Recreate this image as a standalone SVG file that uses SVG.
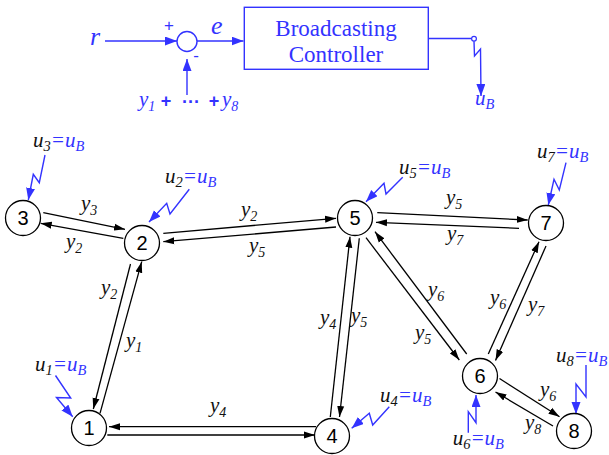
<svg xmlns="http://www.w3.org/2000/svg" width="609" height="455" viewBox="0 0 609 455">
<style>
.lbl{font-family:"Liberation Serif","Times New Roman",serif;font-style:italic;font-size:21px;fill:#111}
.ul{font-family:"Liberation Serif","Times New Roman",serif;font-style:italic;font-size:21px;fill:#111}
.bl{fill:#3333ff}
.num{font-family:"Liberation Sans",Arial,sans-serif;font-size:20px;text-anchor:middle;fill:#000}
.node circle{fill:#fff;stroke:#000;stroke-width:1.3}
.edge{stroke:#000;stroke-width:1.3;fill:none;marker-end:url(#ah)}
.bz{stroke:#3333ff;stroke-width:1.4;fill:none;marker-end:url(#bh)}
.bline{stroke:#3333ff;stroke-width:1.4;fill:none}
.btxt{font-family:"Liberation Serif","Times New Roman",serif;font-size:23px;fill:#3333ff;text-anchor:middle}
.op{font-family:"Liberation Sans",Arial,sans-serif;font-size:18px;font-weight:bold;fill:#3333ff;text-anchor:middle}
</style>
<defs>
<marker id="ah" markerUnits="userSpaceOnUse" markerWidth="12" markerHeight="8" refX="11" refY="4" orient="auto"><path d="M0,0.5 L11,4 L0,7.5 z" fill="#000"/></marker>
<marker id="bh" markerUnits="userSpaceOnUse" markerWidth="14" markerHeight="10" refX="12" refY="4.5" orient="auto"><path d="M0,0 L12,4.5 L0,9 z" fill="#3333ff"/></marker>
</defs>

<!-- block diagram -->
<g id="block">
<text x="90" y="45" class="lbl bl" style="font-size:26px">r</text>
<line x1="105" y1="41" x2="177" y2="41" class="bz"/>
<circle cx="187" cy="41.5" r="10" fill="#fff" stroke="#3333ff" stroke-width="1.4"/>
<text x="169" y="31" style="font-family:'Liberation Sans',Arial,sans-serif;font-size:17px;fill:#3333ff;text-anchor:middle">+</text>
<text x="196" y="61" style="font-family:'Liberation Sans',Arial,sans-serif;font-size:17px;fill:#3333ff;text-anchor:middle">-</text>
<text x="211" y="33.5" class="lbl bl" style="font-size:26px">e</text>
<line x1="197" y1="41" x2="243.5" y2="41" class="bz"/>
<line x1="187" y1="95" x2="187" y2="59" class="bz"/>
<text y="106" class="lbl bl"><tspan x="139">y</tspan><tspan font-size="14" dy="5">1</tspan></text>
<text x="166" y="107" class="op">+</text>
<text x="191" y="108" class="op">···</text>
<text x="214" y="107" class="op">+</text>
<text y="106" class="lbl bl"><tspan x="222">y</tspan><tspan font-size="14" dy="5">8</tspan></text>
<rect x="244.3" y="7.3" width="184" height="62" fill="#fff" stroke="#3333ff" stroke-width="1.4"/>
<text x="336" y="36" class="btxt">Broadcasting</text>
<text x="336" y="62" class="btxt">Controller</text>
<line x1="428.3" y1="38.5" x2="471.5" y2="38.5" class="bline"/>
<circle cx="474" cy="38.7" r="2.4" fill="#fff" stroke="#3333ff" stroke-width="1.2"/>
<polyline points="474,41.2 474.5,56 480.5,49 481,96" class="bz"/>
<text y="105" class="ul bl"><tspan x="475">u</tspan><tspan font-size="14.5" dy="4">B</tspan></text>
</g>

<!-- connectors -->
<g id="connectors">
<line x1="43.3" y1="212.7" x2="125" y2="229.3" class="edge"/>
<line x1="123.3" y1="238.3" x2="40.7" y2="223.3" class="edge"/>
<line x1="163.3" y1="233.3" x2="336" y2="218.3" class="edge"/>
<line x1="336" y1="227" x2="163.3" y2="241.7" class="edge"/>
<line x1="377.3" y1="212.7" x2="527.7" y2="220" class="edge"/>
<line x1="519" y1="228.3" x2="376" y2="222.3" class="edge"/>
<line x1="130.5" y1="264" x2="93.3" y2="409" class="edge"/>
<line x1="100" y1="413.3" x2="141.7" y2="261.7" class="edge"/>
<line x1="316" y1="426.7" x2="109" y2="426.7" class="edge"/>
<line x1="107.3" y1="435" x2="315" y2="435" class="edge"/>
<line x1="330.3" y1="417" x2="350" y2="236.7" class="edge"/>
<line x1="359.3" y1="238.3" x2="339.5" y2="417" class="edge"/>
<line x1="366" y1="237.7" x2="459.3" y2="360" class="edge"/>
<line x1="466.7" y1="354" x2="375" y2="231.7" class="edge"/>
<line x1="488.3" y1="354" x2="539" y2="241.7" class="edge"/>
<line x1="546" y1="246" x2="495.5" y2="360.5" class="edge"/>
<line x1="499.5" y1="378.5" x2="559.5" y2="416.7" class="edge"/>
<line x1="553" y1="426" x2="495.5" y2="392" class="edge"/>
</g>

<!-- edge labels -->
<g id="edge-labels" class="lbl">
<text y="209.5"><tspan x="81">y</tspan><tspan font-size="14" dy="5">3</tspan></text>
<text y="248"><tspan x="66">y</tspan><tspan font-size="14" dy="5">2</tspan></text>
<text y="215.5"><tspan x="241">y</tspan><tspan font-size="14" dy="5">2</tspan></text>
<text y="252"><tspan x="249">y</tspan><tspan font-size="14" dy="5">5</tspan></text>
<text y="203.7"><tspan x="446">y</tspan><tspan font-size="14" dy="5">5</tspan></text>
<text y="240"><tspan x="447">y</tspan><tspan font-size="14" dy="5">7</tspan></text>
<text y="294"><tspan x="101">y</tspan><tspan font-size="14" dy="5">2</tspan></text>
<text y="347"><tspan x="126">y</tspan><tspan font-size="14" dy="5">1</tspan></text>
<text y="412"><tspan x="210">y</tspan><tspan font-size="14" dy="5">4</tspan></text>
<text y="324"><tspan x="320">y</tspan><tspan font-size="14" dy="5">4</tspan></text>
<text y="322"><tspan x="351">y</tspan><tspan font-size="14" dy="5">5</tspan></text>
<text y="295.5"><tspan x="428">y</tspan><tspan font-size="14" dy="5">6</tspan></text>
<text y="338.5"><tspan x="415">y</tspan><tspan font-size="14" dy="5">5</tspan></text>
<text y="303.7"><tspan x="490">y</tspan><tspan font-size="14" dy="5">6</tspan></text>
<text y="310.5"><tspan x="528">y</tspan><tspan font-size="14" dy="5">7</tspan></text>
<text y="395.5"><tspan x="540">y</tspan><tspan font-size="14" dy="5">6</tspan></text>
<text y="428.7"><tspan x="525">y</tspan><tspan font-size="14" dy="5">8</tspan></text>
</g>

<!-- broadcast inputs -->
<g id="broadcast">
<polyline points="45,155 39.3,182.7 33.3,174.3 28.3,200" class="bz"/>
<text y="146.7" class="ul"><tspan x="33">u</tspan><tspan font-size="14.5" dy="4">3</tspan><tspan class="bl" dy="-4">=u</tspan><tspan class="bl" font-size="14.5" dy="4">B</tspan></text>
<polyline points="189.3,189.3 170,214 166.7,203.3 149,222" class="bz"/>
<text y="183" class="ul"><tspan x="165">u</tspan><tspan font-size="14.5" dy="4">2</tspan><tspan class="bl" dy="-4">=u</tspan><tspan class="bl" font-size="14.5" dy="4">B</tspan></text>
<polyline points="402.7,177.3 386,194 384,183.3 366,201.7" class="bz"/>
<text y="173.5" class="ul"><tspan x="399">u</tspan><tspan font-size="14.5" dy="4">5</tspan><tspan class="bl" dy="-4">=u</tspan><tspan class="bl" font-size="14.5" dy="4">B</tspan></text>
<polyline points="566,162.7 559.3,190 554,179.3 548.3,205" class="bz"/>
<text y="158" class="ul"><tspan x="537">u</tspan><tspan font-size="14.5" dy="4">7</tspan><tspan class="bl" dy="-4">=u</tspan><tspan class="bl" font-size="14.5" dy="4">B</tspan></text>
<polyline points="55.5,375.5 70.7,398 56.5,397.5 72.7,416.7" class="bz"/>
<text y="370.7" class="ul"><tspan x="35">u</tspan><tspan font-size="14.5" dy="4">1</tspan><tspan class="bl" dy="-4">=u</tspan><tspan class="bl" font-size="14.5" dy="4">B</tspan></text>
<polyline points="389.3,406.7 372.7,425 369.3,413.3 351.7,428.3" class="bz"/>
<text y="401.7" class="ul"><tspan x="380">u</tspan><tspan font-size="14.5" dy="4">4</tspan><tspan class="bl" dy="-4">=u</tspan><tspan class="bl" font-size="14.5" dy="4">B</tspan></text>
<polyline points="468.3,432.7 468.3,411.7 476,422.7 476,395" class="bz"/>
<text y="445" class="ul"><tspan x="452.7">u</tspan><tspan font-size="14.5" dy="4">6</tspan><tspan class="bl" dy="-4">=u</tspan><tspan class="bl" font-size="14.5" dy="4">B</tspan></text>
<polyline points="586,365 586,397 576,384 576,414" class="bz"/>
<text y="361.7" class="ul"><tspan x="556">u</tspan><tspan font-size="14.5" dy="4">8</tspan><tspan class="bl" dy="-4">=u</tspan><tspan class="bl" font-size="14.5" dy="4">B</tspan></text>
</g>

<!-- nodes -->
<g id="node1" class="node"><circle cx="89" cy="428" r="17.5"/><text x="89" y="435" class="num">1</text></g>
<g id="node2" class="node"><circle cx="142" cy="243" r="17.5"/><text x="142" y="250" class="num">2</text></g>
<g id="node3" class="node"><circle cx="23" cy="218" r="17.5"/><text x="23" y="225" class="num">3</text></g>
<g id="node4" class="node"><circle cx="332" cy="436" r="17.5"/><text x="332" y="443" class="num">4</text></g>
<g id="node5" class="node"><circle cx="355" cy="218" r="17.5"/><text x="355" y="225" class="num">5</text></g>
<g id="node6" class="node"><circle cx="480" cy="376" r="17.5"/><text x="480" y="383" class="num">6</text></g>
<g id="node7" class="node"><circle cx="546" cy="223" r="17.5"/><text x="546" y="230" class="num">7</text></g>
<g id="node8" class="node"><circle cx="574" cy="431" r="17.5"/><text x="574" y="438" class="num">8</text></g>
</svg>
